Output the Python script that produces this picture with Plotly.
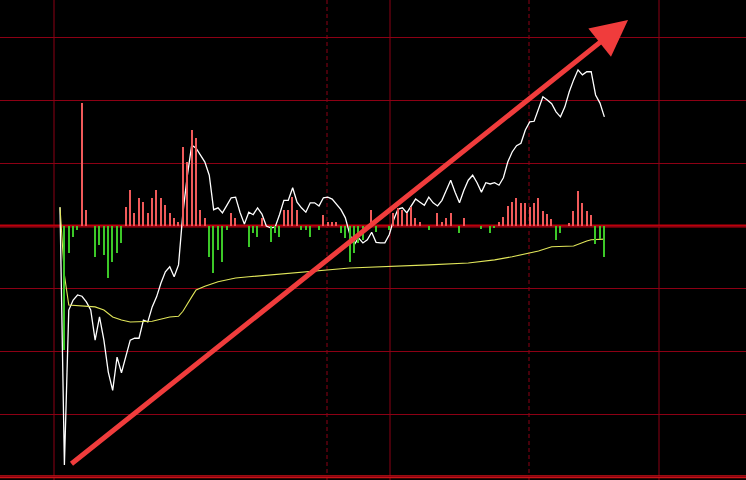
import plotly.graph_objects as go

# ---- data (percent change vs previous close, one point per minute) ----
price_pct = [0.30, -3.81, -1.34, -1.18, -1.10, -1.12, -1.21, -1.34, -1.82, -1.45,
             -1.82, -2.33, -2.62, -2.09, -2.34, -2.06, -1.82, -1.79, -1.79, -1.50,
             -1.53, -1.29, -1.13, -0.91, -0.73, -0.65, -0.81, -0.62, 0.21, 0.80,
             1.29, 1.24, 1.13, 1.02, 0.81, 0.26, 0.29, 0.21, 0.33, 0.45,
             0.46, 0.22, 0.03, 0.22, 0.18, 0.29, 0.19, 0.00, -0.03, -0.02,
             0.18, 0.41, 0.41, 0.61, 0.38, 0.29, 0.22, 0.37, 0.37, 0.32,
             0.45, 0.46, 0.43, 0.35, 0.26, 0.13, -0.13, -0.30, -0.19, -0.27,
             -0.22, -0.10, -0.26, -0.27, -0.27, -0.14, 0.10, 0.27, 0.29, 0.21,
             0.33, 0.43, 0.38, 0.33, 0.46, 0.37, 0.32, 0.41, 0.57, 0.73,
             0.54, 0.37, 0.57, 0.73, 0.81, 0.69, 0.54, 0.69, 0.67, 0.69,
             0.65, 0.77, 1.02, 1.18, 1.28, 1.32, 1.53, 1.66, 1.67, 1.85,
             2.06, 2.01, 1.95, 1.82, 1.74, 1.90, 2.14, 2.33, 2.49, 2.41,
             2.46, 2.46, 2.09, 1.96, 1.74]
minutes = list(range(len(price_pct)))

avg_minutes = [0, 1, 2, 5, 8, 10, 12, 14, 16, 21, 25, 27, 28, 30, 31, 33, 36, 40, 43,
               66, 75, 84, 93, 99, 103, 107, 109, 112, 117, 120, 121, 124]
avg_pct = [0.30, -0.78, -1.26, -1.28, -1.29, -1.34, -1.45, -1.50, -1.53, -1.52, -1.45,
           -1.44, -1.36, -1.13, -1.02, -0.96, -0.89, -0.83, -0.81, -0.67, -0.65,
           -0.62, -0.59, -0.54, -0.49, -0.43, -0.40, -0.33, -0.32, -0.24, -0.22, -0.21]

vol_minutes = [1, 2, 3, 4, 5, 6, 8, 9, 10, 11, 12, 13, 14, 15, 16, 17, 18, 19, 20, 21,
               22, 23, 24, 25, 26, 27, 28, 29, 30, 31, 32, 33, 34, 35, 36, 37, 38, 39, 40,
               43, 44, 45, 46, 48, 49, 50, 51, 52, 53, 54, 55, 56, 57, 59, 60, 61, 62, 63,
               64, 65, 66, 67, 68, 69, 71, 72, 75, 76, 77, 78, 79, 80, 81, 82, 84, 86, 87,
               88, 89, 91, 92, 96, 98, 99, 100, 101, 102, 103, 104, 105, 106, 107, 108,
               109, 110, 111, 112, 113, 114, 116, 117, 118, 119, 120, 121, 122, 123, 124]
vol_net = [-1240, -270, -110, -40, 1230, 160, -310, -190, -290, -520, -360, -270, -170,
           190, 360, 130, 280, 240, 130, 280, 360, 280, 210, 130, 80, 40, 790, 640, 960,
           880, 160, 80, -310, -470, -240, -360, -40, 130, 80,
           -210, -70, -110, 80, -160, -70, -110, 160, 160, 290, 160, -40, -40, -110, -40,
           110, 40, 40, 40, -70, -120, -360, -270, -170, -140, 160, -60, -40, 130, 180,
           160, 130, 190, 80, 40, -40, 130, 40, 80, 130, -70, 80, -30, -70, -20, 40, 90,
           200, 240, 280, 230, 230, 190, 230, 280, 150, 120, 70, -140, -70, 30, 150, 350,
           230, 150, 110, -180, -130, -310]

# ---- geometry helpers (pixel layout of the 746x480 canvas) ----
W, H = 746, 480
X0_PX, STEP_PX = 60.0, 4.39        # minute 0 position and px per minute
ZERO_PX, UNIT_PX = 226.0, 62.71    # y of 0% line and px per 1%
x_range = [(0 - X0_PX) / STEP_PX, (W - X0_PX) / STEP_PX]
y_range = [(ZERO_PX - H) / UNIT_PX, ZERO_PX / UNIT_PX]
VOL_SCALE = 10.0
y2_range = [y_range[0] * UNIT_PX * VOL_SCALE, y_range[1] * UNIT_PX * VOL_SCALE]

GRID = "rgb(140,0,20)"

fig = go.Figure()

vol_colors = ["rgb(240,90,90)" if v > 0 else "rgb(60,200,40)" for v in vol_net]
fig.add_trace(go.Bar(x=vol_minutes, y=vol_net, yaxis="y2", width=0.32,
                     marker=dict(color=vol_colors, line=dict(width=0)),
                     showlegend=False, hoverinfo="skip"))

fig.add_trace(go.Scatter(x=minutes, y=price_pct, mode="lines",
                         line=dict(color="white", width=1.3), showlegend=False))
fig.add_trace(go.Scatter(x=avg_minutes, y=avg_pct, mode="lines",
                         line=dict(color="rgb(225,230,90)", width=1.1), showlegend=False))

shapes = []
# vertical grid lines (pixel x positions)
for px, dash in [(54, "solid"), (327, "4px,3px"), (390, "solid"), (529, "4px,3px"), (659, "solid")]:
    shapes.append(dict(type="line", xref="paper", yref="paper", x0=px / W, x1=px / W,
                       y0=0, y1=1, line=dict(color=GRID, width=1, dash=dash),
                       layer="below"))
# thick zero line and bottom line
shapes.append(dict(type="line", xref="paper", yref="y", x0=0, x1=1, y0=0, y1=0,
                   line=dict(color="rgb(190,0,10)", width=3), layer="below"))
shapes.append(dict(type="line", xref="paper", yref="y", x0=0, x1=1, y0=-4, y1=-4,
                   line=dict(color="rgb(200,20,20)", width=3), layer="below"))

fig.update_layout(
    width=W, height=H,
    margin=dict(l=0, r=0, t=0, b=0),
    paper_bgcolor="black", plot_bgcolor="black",
    bargap=0,
    xaxis=dict(range=x_range, showgrid=False, zeroline=False, showticklabels=False,
               ticks="", showline=False, fixedrange=True),
    yaxis=dict(range=y_range, dtick=1, tick0=0, showgrid=True, gridcolor=GRID, gridwidth=1,
               zeroline=False, showticklabels=False, ticks="", showline=False),
    yaxis2=dict(range=y2_range, overlaying="y", showgrid=False, zeroline=False,
                showticklabels=False, ticks=""),
    shapes=shapes,
    annotations=[dict(xref="paper", yref="paper", x=628 / W, y=1 - 20 / H,
                      axref="pixel", ayref="pixel", ax=70 - 628, ay=465 - 20,
                      showarrow=True, arrowhead=2, arrowsize=1.45, arrowwidth=5,
                      arrowcolor="rgb(240,60,60)", text="", standoff=0, startstandoff=0)],
)

fig.write_html("out.html", config={"displayModeBar": False},
               post_script="document.body.style.margin='0';document.body.style.background='black';")
